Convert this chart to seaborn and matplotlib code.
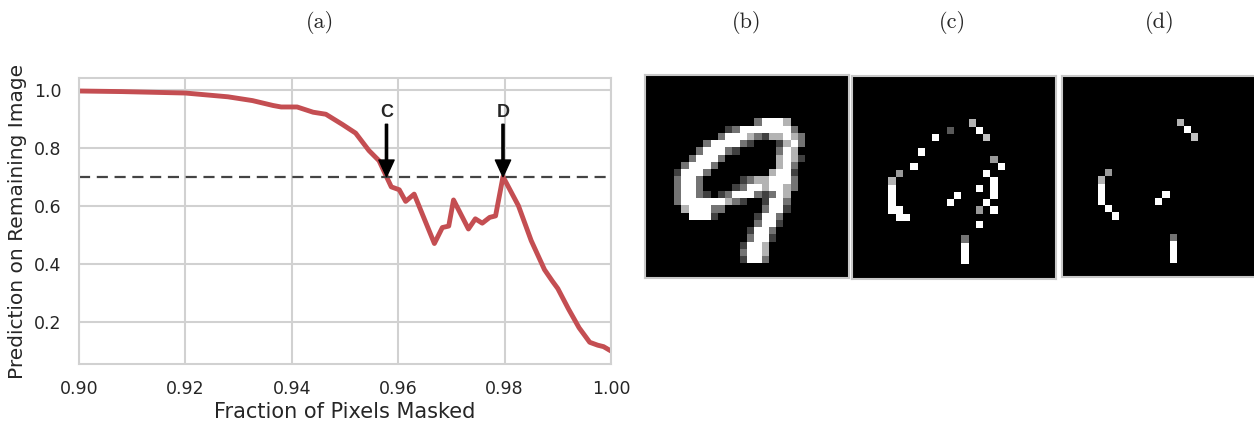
import numpy as np
import seaborn as sns
import matplotlib.pyplot as plt

# ---- curve data (a) ----
frac_masked = [0.900, 0.908, 0.920, 0.928, 0.9326, 0.9365, 0.938, 0.941, 0.944, 0.9464,
               0.9495, 0.952, 0.9545, 0.9564, 0.9578, 0.9587, 0.9602, 0.9614, 0.963, 0.9668,
               0.9683, 0.9695, 0.9704, 0.9732, 0.9745, 0.9758, 0.9772, 0.9783, 0.9797, 0.9826,
               0.985, 0.986, 0.9875, 0.989, 0.990, 0.992, 0.994, 0.996, 0.9975, 0.9986, 1.000]
prediction = [0.995, 0.993, 0.988, 0.975, 0.962, 0.945, 0.940, 0.940, 0.922, 0.915,
              0.880, 0.850, 0.790, 0.755, 0.700, 0.665, 0.655, 0.615, 0.640, 0.470,
              0.525, 0.530, 0.620, 0.520, 0.555, 0.540, 0.560, 0.565, 0.700, 0.600,
              0.480, 0.440, 0.380, 0.340, 0.315, 0.245, 0.180, 0.130, 0.120, 0.115, 0.100]
threshold = 0.7
marker_labels = ['C', 'D']
marker_x = [0.9578, 0.9797]

# ---- images (b), (c), (d): 28x28 grayscale ----
# shade codes: d=dark, g=gray, l=light, w=white
shades = {'.': 0.0, 'd': 0.25, 'g': 0.45, 'l': 0.7, 'w': 1.0}
# (row, first column, shade string)
digit_rows = [
    (6, 15, 'gwwwl'),
    (7, 11, 'dgwwwwwwwg'),
    (8, 10, 'gwwwlgdllwlg'),
    (9, 8, 'gwwwwgd...dlwg'),
    (10, 7, 'gwwwgd.....gwl'),
    (11, 6, 'gwwwg.......lwld'),
    (12, 5, 'gwwwg........lwg'),
    (13, 4, 'dwwwg........lwwd'),
    (14, 4, 'gwwg.....dgllwwwg'),
    (15, 4, 'gwwg....dgwwlwwlg'),
    (16, 4, 'gwwgd.dgwwwgdgwl'),
    (17, 4, 'gwwwwwwlgd..dwwg'),
    (18, 5, 'lwwwgg.....gwwd'),
    (19, 6, 'wwwd.....dwwg'),
    (20, 15, 'gwwd'),
    (21, 14, 'dwwg'),
    (22, 14, 'gwwd'),
    (23, 13, 'dwwl'),
    (24, 13, 'gwwl'),
    (25, 13, 'dwwg'),
]
# kept pixels (row, col, value)
mask_c = [(6, 16, 0.7), (7, 13, 0.35), (7, 17, 1), (8, 18, 0.75), (8, 11, 1), (10, 9, 1),
          (11, 19, 0.6), (12, 20, 1), (12, 8, 1), (13, 18, 1), (13, 6, 0.6), (14, 5, 0.7),
          (15, 5, 1), (16, 5, 1), (17, 5, 1), (18, 5, 1), (18, 6, 1), (19, 6, 1), (19, 7, 1),
          (14, 19, 1), (15, 19, 1), (16, 19, 1), (15, 17, 1), (16, 14, 1), (17, 13, 1),
          (17, 18, 1), (18, 17, 0.6), (18, 19, 1), (20, 17, 1), (22, 15, 0.45),
          (23, 15, 1), (24, 15, 1), (25, 15, 1)]
mask_d = [(6, 16, 0.7), (7, 17, 1), (8, 18, 0.75), (13, 6, 0.6), (14, 5, 0.7), (15, 5, 1),
          (16, 5, 1), (17, 5, 1), (18, 6, 1), (19, 7, 1), (16, 14, 1), (17, 13, 1),
          (22, 15, 0.45), (23, 15, 1), (24, 15, 1), (25, 15, 1)]


def rows_to_img(rows):
    img = np.zeros((28, 28))
    for r, c0, s in rows:
        for i, ch in enumerate(s):
            img[r, c0 + i] = shades[ch]
    return img


def pix_to_img(pix):
    img = np.zeros((28, 28))
    for r, c, v in pix:
        img[r, c] = v
    return img


sns.set_style("whitegrid", {'grid.color': '.82', 'axes.edgecolor': '.82'})
plt.rcParams['grid.linewidth'] = 1.5
plt.rcParams['axes.linewidth'] = 1.5
W, H = 1254, 422
fig = plt.figure(figsize=(W / 100, H / 100), dpi=100)


def px_axes(x0, y0, w, h):
    return fig.add_axes([x0 / W, 1 - (y0 + h) / H, w / W, h / H])


# ---- (a) line plot ----
ax = px_axes(79, 78, 532, 286)
red = sns.color_palette("deep")[3]
sns.lineplot(x=frac_masked, y=prediction, ax=ax, color=red, lw=3.5)
ax.axhline(threshold, color='#444444', lw=1.6, ls='--', dashes=(5, 3))
ax.set_xlim(0.90, 1.00)
ax.set_xticks([0.90, 0.92, 0.94, 0.96, 0.98, 1.00])
ax.set_yticks([0.2, 0.4, 0.6, 0.8, 1.0])
ax.set_xticklabels(['0.90', '0.92', '0.94', '0.96', '0.98', '1.00'])
ax.tick_params(axis='x', labelsize=12.5, pad=8, colors='#262626')
ax.tick_params(axis='y', labelsize=12.5, pad=9, colors='#262626')
ax.set_xlabel('Fraction of Pixels Masked', fontsize=15, color='#262626', labelpad=3)
ax.set_ylabel('Prediction on Remaining Image', fontsize=14.5, color='#262626', labelpad=5)
for lab, mx in zip(marker_labels, marker_x):
    ax.annotate(lab, xy=(mx, threshold), xytext=(mx, 0.921),
                ha='center', va='center', fontsize=13, fontweight='bold',
                family='Liberation Sans',
                arrowprops=dict(facecolor='black', edgecolor='black', width=1.6,
                                headwidth=11, headlength=12, shrink=0))

# ---- (b), (c), (d) images ----
panels = [(645, 75, 204, 203, rows_to_img(digit_rows)),
          (852, 76, 204, 203, pix_to_img(mask_c)),
          (1062, 76, 201, 201, pix_to_img(mask_d))]
for x0, y0, w, h, img in panels:
    iax = px_axes(x0, y0, w, h)
    iax.imshow(img, cmap='gray', vmin=0, vmax=1, interpolation='nearest', aspect='auto')
    iax.set_xticks([])
    iax.set_yticks([])
    iax.grid(False)
    for sp in iax.spines.values():
        sp.set_color('#c8c8c8')
        sp.set_linewidth(1.5)

# ---- panel titles ----
for lab, xc in zip(['(a)', '(b)', '(c)', '(d)'], [320, 747, 952, 1160]):
    fig.text(xc / W, 1 - 23 / H, lab, ha='center', va='center',
             fontsize=16, family='cmr10')

fig.savefig('out.png', dpi=100)
